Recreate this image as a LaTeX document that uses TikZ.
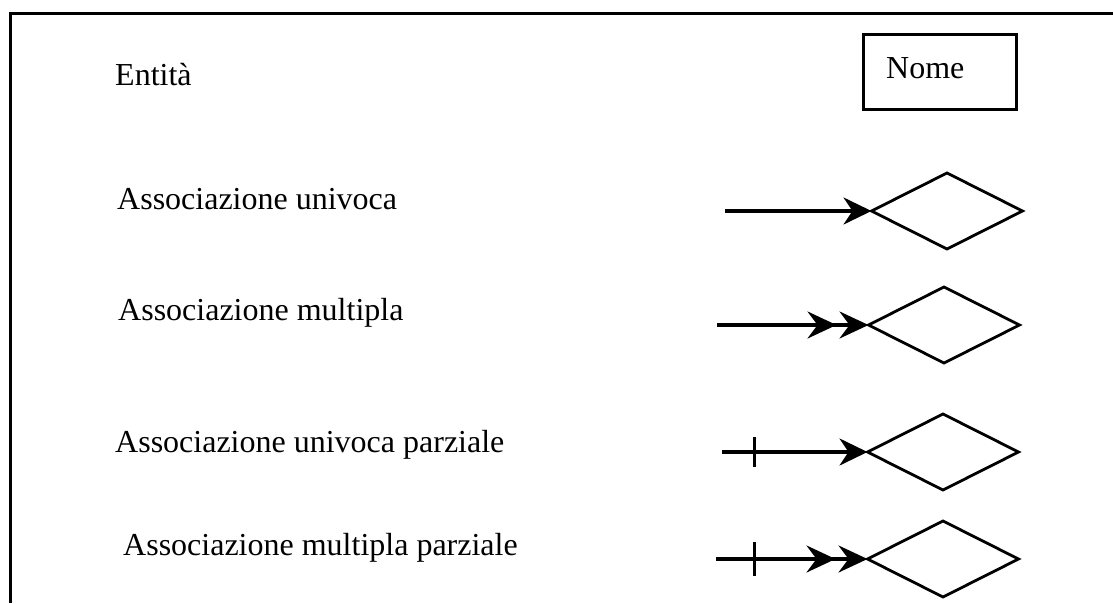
\documentclass[tikz,border=0pt]{standalone}
\usepackage{fontspec}
\setmainfont{Liberation Serif}
\usetikzlibrary{shapes.geometric,arrows.meta}
\begin{document}
\begin{tikzpicture}[x=1pt,y=-1pt,
  lbl/.style={anchor=base west,inner sep=0pt,font=\fontsize{32}{38}\selectfont},
  rel/.style={draw,shape=diamond,line width=2.8pt,inner sep=0pt,outer sep=0pt,minimum width=151pt,minimum height=76pt},
  conn/.style={line width=3.4pt},
  onehead/.style={-{Stealth[length=28pt,width=27pt,inset=9pt]}},
  twohead/.style={-{Stealth[length=29pt,width=27pt,inset=10pt,sep=3pt] Stealth[length=29pt,width=27pt,inset=10pt]}},
  tickmark/.style={line width=3pt}]
\useasboundingbox (0,0) rectangle (1113,603);
% frame
\draw[line width=3pt] (10,603) -- (10,13) -- (1113,13);
% entity
\node[lbl] (tEnt) at (115,85) {Entità};
\node[draw,line width=3pt,inner sep=0pt,outer sep=0pt,minimum width=153pt,minimum height=75pt,anchor=north west] (nome) at (863,34) {};
\node[lbl] (tNome) at (886,78) {Nome};
% labels
\node[lbl] (t1) at (117,209) {Associazione univoca};
\node[lbl] (t2) at (118,320) {Associazione multipla};
\node[lbl] (t3) at (115,452) {Associazione univoca parziale};
\node[lbl] (t4) at (123,555) {Associazione multipla parziale};
% diamonds
\node[rel] (d1) at (947,211) {};
\node[rel] (d2) at (944,325) {};
\node[rel] (d3) at (943,452) {};
\node[rel] (d4) at (943,559) {};
% start points
\coordinate (s1) at (725,211);
\coordinate (s2) at (717,325);
\coordinate (s3) at (722,452);
\coordinate (s4) at (716,559);
\coordinate (k3) at (754,452);
\coordinate (k4) at (754,559);
% connectors
\draw[conn,onehead] (s1) -- (d1.west);
\draw[conn,twohead] (s2) -- (d2.west);
\draw[conn,onehead] (s3) -- (d3.west);
\draw[conn,twohead] (s4) -- (d4.west);
% partial ticks
\draw[tickmark] ([yshift=15pt]k3) -- ([yshift=-15pt]k3);
\draw[tickmark] ([yshift=17pt]k4) -- ([yshift=-17pt]k4);
\end{tikzpicture}
\end{document}
